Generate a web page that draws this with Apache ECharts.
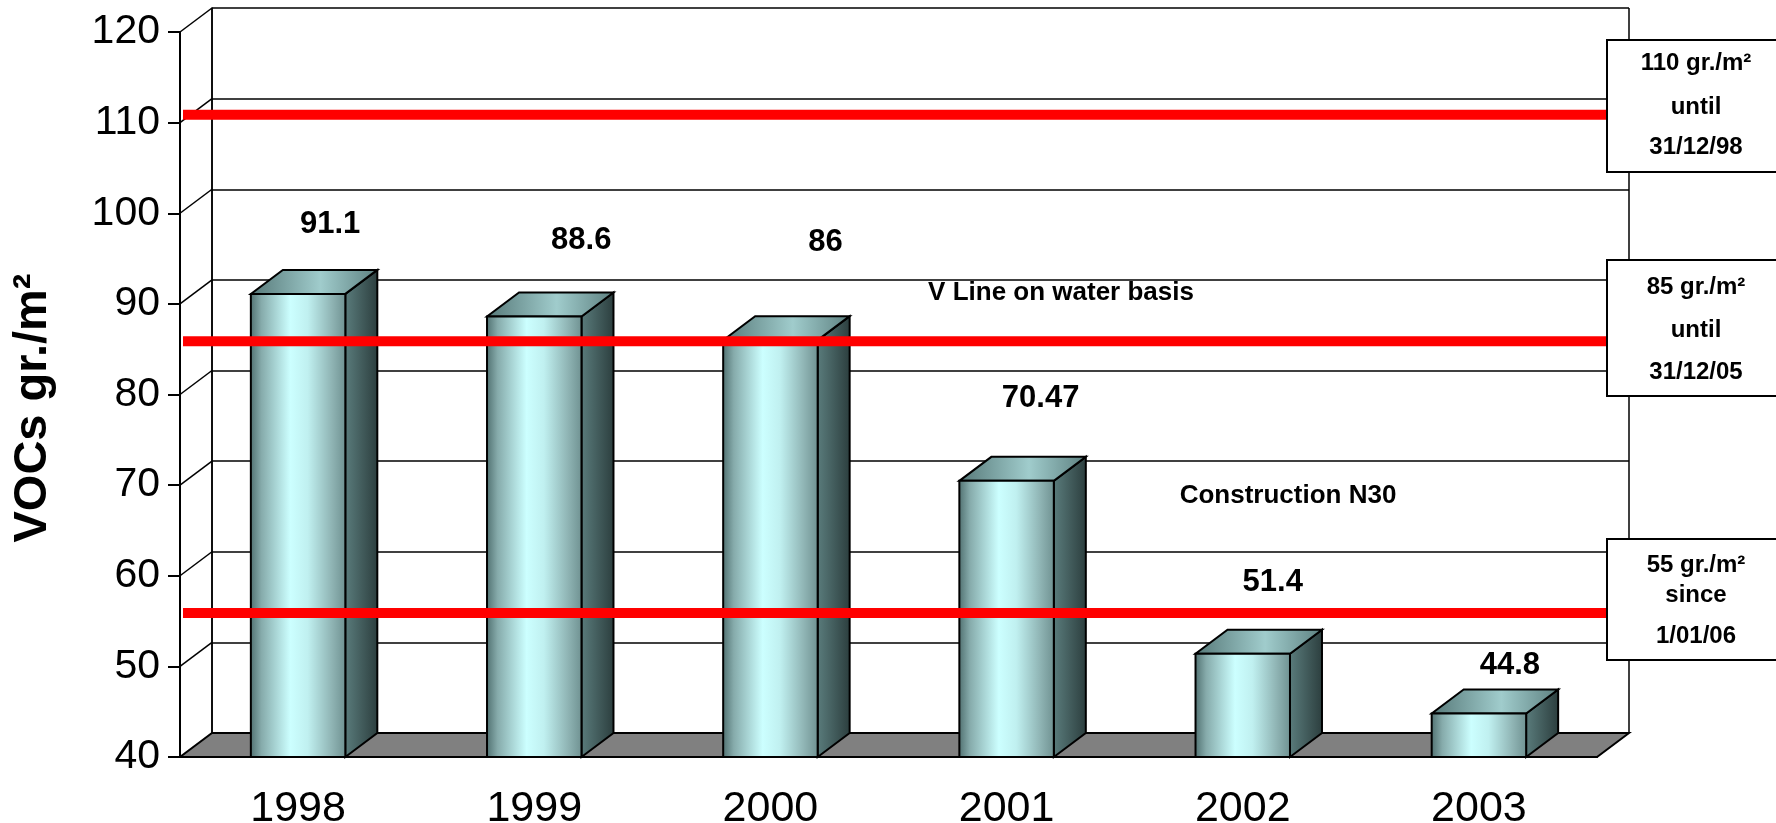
<!DOCTYPE html>
<html>
<head>
<meta charset="utf-8">
<title>VOCs gr./m2</title>
<script src="https://cdn.jsdelivr.net/npm/echarts@6/dist/echarts.min.js"></script>
<style>
html, body { margin: 0; padding: 0; background: #fff; }
#main { width: 1776px; height: 823px; }
</style>
</head>
<body>
<div id="main"></div>
<script>
// values
const years = ['1998', '1999', '2000', '2001', '2002', '2003'];
const vocs = [91.1, 88.6, 86, 70.47, 51.4, 44.8];
const limitValues = [110, 85, 55];
const limitNotes = [
  ['110 gr./m²', 'until', '31/12/98'],
  ['85 gr./m²', 'until', '31/12/05'],
  ['55 gr./m²', 'since', '1/01/06']
];
const notes = ['V Line on water basis', 'Construction N30'];
const yMin = 40, yMax = 120, yStep = 10;

// layout / look
const FONT = '"Liberation Sans", Arial, sans-serif';
const DX = 32, DY = 24;          // depth of the fake 3d box
const LIMIT_LIFT = 8;            // red lines sit a little behind the front plane
const BOX_LEFT = 1607;
const boxTops = [40, 260, 539];
const boxHeights = [132, 136, 121];
const boxLines = [[23, 67, 107], [27, 70, 112], [26, 56, 97]];
const notePos = [[1061, 293], [1288, 496]];
// value labels were moved by hand in the original, offsets from the bar top face
const labelNudge = [[16, -57], [31, -64], [39, -86], [18, -70], [14, -59], [15, -36]];

const grad = (stops) => new echarts.graphic.LinearGradient(0, 0, 1, 0,
  stops.map((c) => ({ offset: c[0], color: c[1] })));
const frontGrad = grad([[0, '#4e6e6e'], [0.12, '#86abab'], [0.42, '#ccffff'], [0.6, '#c0f0f0'], [0.85, '#8fb4b4'], [1, '#6e9090']]);
const sideGrad = grad([[0, '#5b7d7d'], [1, '#2b3d3d']]);
const topGrad = grad([[0, '#567878'], [0.55, '#a0cccc'], [1, '#5d8080']]);

const ticks = [];
for (let v = yMin + yStep; v <= yMax; v += yStep) ticks.push([0, v]);

function renderSideWall(params, api) {
  const cs = params.coordSys;
  const y = api.coord([0, api.value(1)])[1];
  return {
    type: 'line',
    shape: { x1: cs.x, y1: y, x2: cs.x + DX, y2: y - DY },
    style: { stroke: '#000', lineWidth: 1.5 }
  };
}

function renderFloor(params, api) {
  const cs = params.coordSys;
  const yb = api.coord([0, yMin])[1];
  const xl = cs.x, xr = cs.x + cs.width;
  return {
    type: 'polygon',
    shape: { points: [[xl, yb], [xr, yb], [xr + DX, yb - DY], [xl + DX, yb - DY]] },
    style: { fill: '#808080', stroke: '#000', lineWidth: 2 }
  };
}

function renderBar(params, api) {
  const i = api.value(0), v = api.value(1);
  const top = api.coord([i, v]);
  const base = api.coord([i, yMin]);
  const w = api.size([1, 0])[0] * 0.4;
  const x0 = top[0] - w / 2, x1 = top[0] + w / 2;
  const yt = top[1], yb = base[1];
  const nudge = labelNudge[params.dataIndex];
  return {
    type: 'group',
    children: [
      {
        type: 'polygon',
        shape: { points: [[x1, yb], [x1 + DX, yb - DY], [x1 + DX, yt - DY], [x1, yt]] },
        style: { fill: sideGrad, stroke: '#000', lineWidth: 2 }
      },
      {
        type: 'polygon',
        shape: { points: [[x0, yt], [x1, yt], [x1 + DX, yt - DY], [x0 + DX, yt - DY]] },
        style: { fill: topGrad, stroke: '#000', lineWidth: 2 }
      },
      {
        type: 'rect',
        shape: { x: x0, y: yt, width: w, height: yb - yt },
        style: { fill: frontGrad, stroke: '#000', lineWidth: 2 }
      },
      {
        type: 'text',
        x: top[0] + DX / 2 + nudge[0],
        y: yt - DY / 2 + nudge[1],
        style: {
          text: String(v), fill: '#000', font: 'bold 31px ' + FONT,
          align: 'center', verticalAlign: 'middle'
        }
      }
    ]
  };
}

function renderLimit(params, api) {
  const cs = params.coordSys;
  const y = api.coord([0, api.value(1)])[1] - LIMIT_LIFT;
  return {
    type: 'rect',
    shape: { x: cs.x + 3, y: y - 5, width: BOX_LEFT - cs.x - 3, height: 10 },
    style: { fill: '#ff0000' }
  };
}

// text boxes on the right and free notes
const graphics = [];
limitNotes.forEach((lines, k) => {
  graphics.push({
    type: 'rect', z: 100,
    shape: { x: BOX_LEFT, y: boxTops[k], width: 200, height: boxHeights[k] },
    style: { fill: '#fff', stroke: '#000', lineWidth: 2 }
  });
  lines.forEach((t, j) => {
    graphics.push({
      type: 'text', z: 101, x: 1696, y: boxTops[k] + boxLines[k][j],
      style: { text: t, fill: '#000', font: 'bold 24px ' + FONT, align: 'center', verticalAlign: 'middle' }
    });
  });
});
notes.forEach((t, k) => {
  graphics.push({
    type: 'text', z: 100, x: notePos[k][0], y: notePos[k][1],
    style: { text: t, fill: '#000', font: 'bold 26px ' + FONT, align: 'center', verticalAlign: 'middle' }
  });
});
graphics.push({
  type: 'text', z: 100, x: 33, y: 408, rotation: Math.PI / 2,
  style: { text: 'VOCs gr./m²', fill: '#000', font: 'bold 47px ' + FONT, align: 'center', verticalAlign: 'middle' }
});

const chart = echarts.init(document.getElementById('main'));
chart.setOption({
  backgroundColor: '#fff',
  animation: false,
  grid: [
    { left: 180, right: 179, top: 32, bottom: 66, outerBoundsMode: 'none' },
    { left: 212, right: 147, top: 8, bottom: 90, outerBoundsMode: 'none' }
  ],
  xAxis: [
    {
      type: 'category', gridIndex: 0, data: years,
      axisLine: { lineStyle: { color: '#000', width: 2 } },
      axisTick: { length: 11, lineStyle: { color: '#000', width: 2 } },
      axisLabel: { color: '#000', fontSize: 43, fontFamily: FONT, margin: 31 },
      splitLine: { show: false }
    },
    {
      type: 'value', gridIndex: 1, min: 0, max: 1, interval: 1,
      axisLine: { show: false }, axisTick: { show: false }, axisLabel: { show: false },
      splitLine: { show: true, lineStyle: { color: '#000', width: 1.5 } }
    }
  ],
  yAxis: [
    {
      type: 'value', gridIndex: 0, min: yMin, max: yMax, interval: yStep,
      axisLine: { show: true, lineStyle: { color: '#000', width: 2 } },
      axisTick: { show: true, length: 12, lineStyle: { color: '#000', width: 2 } },
      axisLabel: { color: '#000', fontSize: 41, fontFamily: FONT, margin: 20 },
      splitLine: { show: false }
    },
    {
      type: 'value', gridIndex: 1, min: yMin, max: yMax, interval: yStep,
      axisLine: { show: true, lineStyle: { color: '#000', width: 1.5 } },
      axisTick: { show: false }, axisLabel: { show: false },
      splitLine: { show: true, lineStyle: { color: '#000', width: 1.5 } }
    }
  ],
  series: [
    { type: 'custom', name: 'side wall', xAxisIndex: 0, yAxisIndex: 0, z: 2, renderItem: renderSideWall, data: ticks, silent: true },
    { type: 'custom', name: 'floor', xAxisIndex: 0, yAxisIndex: 0, z: 3, renderItem: renderFloor, data: [[0, yMin]], silent: true },
    { type: 'custom', name: 'VOCs', xAxisIndex: 0, yAxisIndex: 0, z: 4, renderItem: renderBar, data: vocs.map((v, i) => [i, v]) },
    { type: 'custom', name: 'limits', xAxisIndex: 0, yAxisIndex: 0, z: 5, renderItem: renderLimit, data: limitValues.map(v => [0, v]) }
  ],
  graphic: graphics
});
</script>
</body>
</html>
